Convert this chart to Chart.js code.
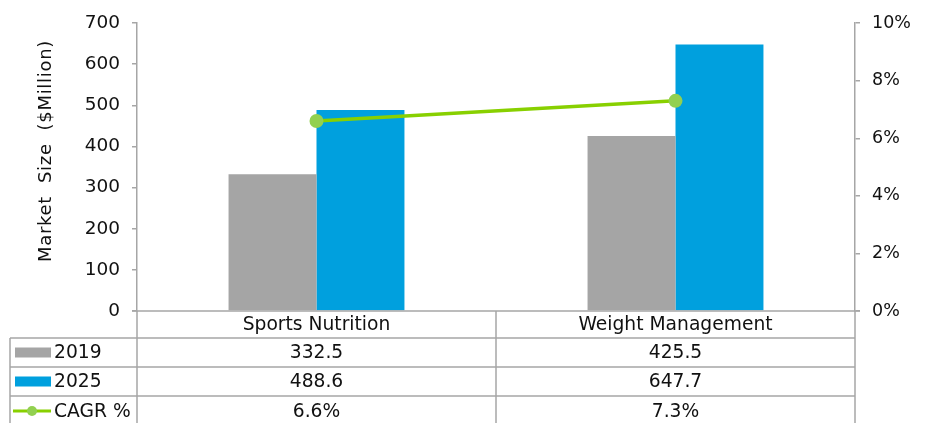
<!DOCTYPE html>
<html>
<head>
<meta charset="utf-8">
<script src="https://cdn.jsdelivr.net/npm/chart.js@4/dist/chart.umd.min.js"></script>
<style>
  html, body { margin: 0; padding: 0; background: #ffffff; }
  #wrap { width: 935px; height: 423px; }
</style>
</head>
<body>
<div id="wrap"><canvas id="c" width="935" height="423"></canvas></div>
<script>
// Market size by segment, with growth rate
const categories = ['Sports Nutrition', 'Weight Management'];
const seriesNames = ['2019', '2025', 'CAGR %'];
const values2019 = [332.5, 425.5];
const values2025 = [488.6, 647.7];
const cagrPercent = [6.6, 7.3];
const axisTitle = 'Market  Size  ($Million)';

const GRAY = '#A5A5A5';
const BLUE = '#00A0DE';
const GREEN_LINE = '#88D000';
const GREEN_DOT = '#92D050';
const RULE = '#A6A6A6';
const TEXT = '#111111';
const FONT = '"DejaVu Sans", Verdana, sans-serif';

// Data table drawn under the plot, aligned to the category scale
const dataTablePlugin = {
  id: 'dataTable',
  afterDraw(chart) {
    const { ctx, chartArea: a, scales: { x } } = chart;
    const H = chart.height;
    const top = a.bottom;
    const r1 = top + 27, r2 = r1 + 29, r3 = r2 + 29;
    const legendLeft = 10;
    const mid = (x.getPixelForValue(0) + x.getPixelForValue(1)) / 2;
    const colBounds = [a.left, mid, a.right];

    ctx.save();
    ctx.strokeStyle = RULE;
    ctx.lineWidth = 1.5;
    ctx.beginPath();
    // top rule (category axis)
    ctx.moveTo(a.left - 5, top); ctx.lineTo(a.right + 5, top);
    // row rules
    [r1, r2, r3].forEach(y => { ctx.moveTo(legendLeft, y); ctx.lineTo(a.right, y); });
    // column rules
    colBounds.forEach(cx => { ctx.moveTo(cx, top); ctx.lineTo(cx, H); });
    ctx.moveTo(legendLeft, r1); ctx.lineTo(legendLeft, H);
    ctx.stroke();

    ctx.fillStyle = TEXT;
    ctx.font = '18.7px ' + FONT;
    ctx.textAlign = 'center';
    ctx.textBaseline = 'middle';
    const rowMid = [(top + r1) / 2, (r1 + r2) / 2, (r2 + r3) / 2, r3 + 15];
    categories.forEach((c, i) => {
      const cx = x.getPixelForValue(i);
      ctx.fillText(c, cx, rowMid[0] + 1);
      ctx.fillText(values2019[i].toFixed(1), cx, rowMid[1] + 1);
      ctx.fillText(values2025[i].toFixed(1), cx, rowMid[2] + 1);
      ctx.fillText(cagrPercent[i].toFixed(1) + '%', cx, rowMid[3] + 1);
    });

    // legend keys
    ctx.fillStyle = GRAY;
    ctx.fillRect(15, rowMid[1] - 5, 36, 10);
    ctx.fillStyle = BLUE;
    ctx.fillRect(15, rowMid[2] - 5, 36, 10);
    ctx.strokeStyle = GREEN_LINE;
    ctx.lineWidth = 3;
    ctx.beginPath();
    ctx.moveTo(13, rowMid[3]); ctx.lineTo(51, rowMid[3]);
    ctx.stroke();
    ctx.fillStyle = GREEN_DOT;
    ctx.beginPath();
    ctx.arc(32, rowMid[3], 5, 0, Math.PI * 2);
    ctx.fill();

    ctx.fillStyle = TEXT;
    ctx.textAlign = 'left';
    seriesNames.forEach((n, i) => ctx.fillText(n, 54, rowMid[i + 1] + 1));

    // rotated axis title
    ctx.translate(46, 151);
    ctx.rotate(-Math.PI / 2);
    ctx.textAlign = 'center';
    ctx.font = '18px ' + FONT;
    ctx.letterSpacing = '0.7px';
    ctx.fillText(axisTitle, 0, 0);
    ctx.restore();
  }
};

new Chart(document.getElementById('c'), {
  type: 'bar',
  data: {
    labels: categories,
    datasets: [
      { label: seriesNames[0], data: values2019, backgroundColor: GRAY, yAxisID: 'y', order: 2,
        categoryPercentage: 0.49, barPercentage: 1.0 },
      { label: seriesNames[1], data: values2025, backgroundColor: BLUE, yAxisID: 'y', order: 2,
        categoryPercentage: 0.49, barPercentage: 1.0 },
      { type: 'line', label: seriesNames[2], data: cagrPercent, yAxisID: 'y1', order: 0,
        borderColor: GREEN_LINE, borderWidth: 3.5, pointRadius: 7, pointBackgroundColor: GREEN_DOT,
        pointBorderWidth: 0, tension: 0, fill: false }
    ]
  },
  options: {
    responsive: false,
    animation: false,
    devicePixelRatio: 1,
    layout: { padding: { top: 21, bottom: 112, left: 0, right: 0 } },
    plugins: { legend: { display: false }, tooltip: { enabled: false } },
    scales: {
      x: { display: false, offset: true },
      y: {
        position: 'left', min: 0, max: 700,
        afterFit(s) { s.width = 137; },
        ticks: { stepSize: 100, color: TEXT, padding: 12, font: { family: FONT, size: 18.5 } },
        grid: { drawOnChartArea: false, tickLength: 5, color: RULE, lineWidth: 1.5 },
        border: { color: RULE, width: 1.5 }
      },
      y1: {
        position: 'right', min: 0, max: 10,
        afterFit(s) { s.width = 80; },
        ticks: { stepSize: 2, color: TEXT, padding: 12, font: { family: FONT, size: 17.5 },
                 callback: v => v + '%' },
        grid: { drawOnChartArea: false, tickLength: 5, color: RULE, lineWidth: 1.5 },
        border: { color: RULE, width: 1.5 }
      }
    }
  },
  plugins: [dataTablePlugin]
});
</script>
</body>
</html>
